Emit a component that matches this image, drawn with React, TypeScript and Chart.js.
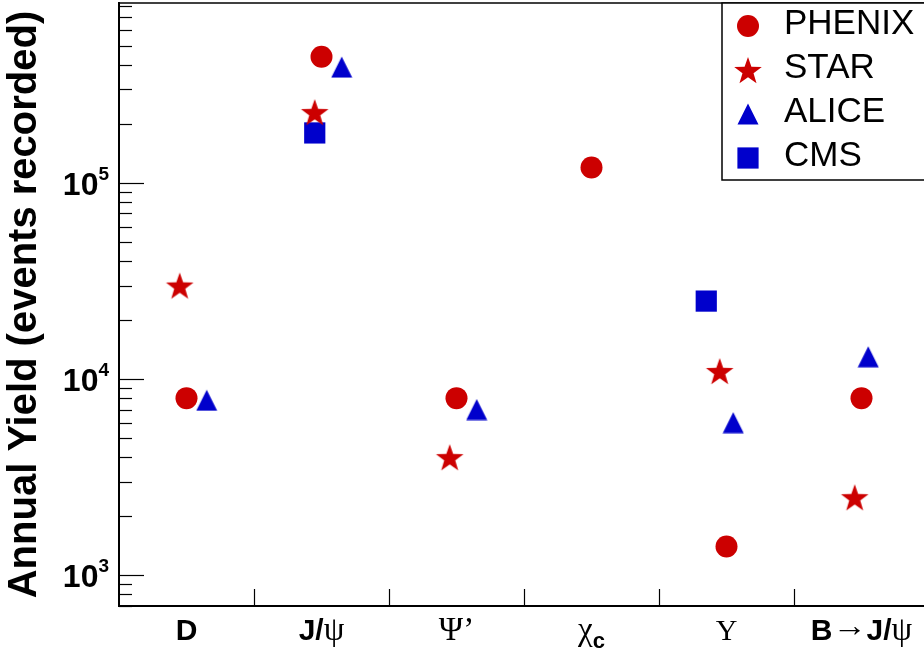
import React, { useEffect, useRef } from 'react';
import { Chart, registerables } from 'chart.js';

Chart.register(...registerables);

// ---- data ----
const categories = ['D', 'J/ψ', 'Ψ’', 'χc', 'Υ', 'B→J/ψ'];
const yTickValues = [1e3, 1e4, 1e5];
const yTickBase = '10';
const yTickExponents = ['3', '4', '5'];
const yTitle = 'Annual Yield (events recorded)';

const seriesNames = ['PHENIX', 'STAR', 'ALICE', 'CMS'];

const phenixX = [0.5, 1.5, 2.5, 3.5, 4.5, 5.5];
const phenixY = [8000, 440000, 8000, 120000, 1400, 8000];

const starX = [0.45, 1.45, 2.45, 4.45, 5.45];
const starY = [30000, 230000, 4000, 11000, 2500];

const aliceX = [0.65, 1.65, 2.65, 4.55, 5.55];
const aliceY = [7800, 390000, 7000, 6000, 13000];

const cmsX = [1.45, 4.35];
const cmsY = [180000, 25000];

const Y_MIN = 697;
const Y_MAX = 827700;

// ---- styles ----
const RED = '#cc0000';
const BLUE = '#0000cc';
const SANS = '"Liberation Sans", Arial, Helvetica, sans-serif';
const SERIF = '"Liberation Serif", "Times New Roman", serif';

function makeStar(color: string) {
  const R = 14.5;
  const r = R * 0.4;
  const c = document.createElement('canvas');
  c.width = 30;
  c.height = 28;
  const ctx = c.getContext('2d')!;
  ctx.fillStyle = color;
  ctx.beginPath();
  const cx = 15;
  const cy = 1 + R;
  for (let k = 0; k < 10; k++) {
    const rad = k % 2 === 0 ? R : r;
    const a = -Math.PI / 2 + (k * Math.PI) / 5;
    const px = cx + rad * Math.cos(a);
    const py = cy + rad * Math.sin(a);
    if (k === 0) ctx.moveTo(px, py);
    else ctx.lineTo(px, py);
  }
  ctx.closePath();
  ctx.fill();
  return c;
}

function makeTriangle(color: string) {
  const c = document.createElement('canvas');
  c.width = 22;
  c.height = 22;
  const ctx = c.getContext('2d')!;
  ctx.fillStyle = color;
  ctx.beginPath();
  ctx.moveTo(11, 0.5);
  ctx.lineTo(21.5, 21.5);
  ctx.lineTo(0.5, 21.5);
  ctx.closePath();
  ctx.fill();
  return c;
}

function drawMarker(ctx: CanvasRenderingContext2D, ds: any, x: number, y: number) {
  const style = ds.pointStyle;
  ctx.save();
  ctx.fillStyle = ds.backgroundColor;
  if (style === 'circle') {
    ctx.beginPath();
    ctx.arc(x, y, ds.pointRadius, 0, Math.PI * 2);
    ctx.fill();
  } else if (style === 'rect') {
    const s = ds.pointRadius * Math.SQRT1_2;
    ctx.fillRect(x - s, y - s, 2 * s, 2 * s);
  } else if (style && style.width) {
    ctx.drawImage(style, x - style.width / 2, y - style.height / 2);
  }
  ctx.restore();
}

function drawCategoryLabel(ctx: CanvasRenderingContext2D, text: string, cx: number, baseline: number) {
  const segs: { t: string; f: string; dy: number; w?: number }[] = [];
  for (let i = 0; i < text.length; i++) {
    const ch = text[i];
    if (/[A-Za-z\/]/.test(ch)) {
      if (i > 0 && text[i - 1] === 'χ') segs.push({ t: ch, f: `bold 22px ${SANS}`, dy: 8 });
      else segs.push({ t: ch, f: `bold 30px ${SANS}`, dy: 0 });
    } else if (ch === '→') {
      segs.push({ t: ch, f: `32px ${SERIF}`, dy: -4, w: 34 });
    } else if (ch === 'Υ') {
      segs.push({ t: ch, f: `30px ${SERIF}`, dy: 0 });
    } else {
      segs.push({ t: ch, f: `33px ${SERIF}`, dy: 0 });
    }
  }
  let total = 0;
  const widths = segs.map((s) => {
    ctx.font = s.f;
    const w = s.w ?? ctx.measureText(s.t).width;
    total += w;
    return w;
  });
  let x = cx - total / 2;
  ctx.textAlign = 'left';
  ctx.textBaseline = 'alphabetic';
  ctx.fillStyle = '#000';
  segs.forEach((s, i) => {
    ctx.font = s.f;
    if (s.w) {
      const natural = ctx.measureText(s.t).width;
      ctx.save();
      ctx.translate(x, baseline + s.dy);
      ctx.scale(s.w / natural, 1);
      ctx.fillText(s.t, 0, 0);
      ctx.restore();
    } else {
      ctx.fillText(s.t, x, baseline + s.dy);
    }
    x += widths[i];
  });
}

const framePlugin = {
  id: 'rootFrame',
  afterDraw(chart: any) {
    const ctx: CanvasRenderingContext2D = chart.ctx;
    const { left, right, top, bottom } = chart.chartArea;
    const ys = chart.scales.y;
    const xs = chart.scales.x;
    ctx.save();
    // top frame line
    ctx.strokeStyle = '#000';
    ctx.lineWidth = 1.5;
    ctx.beginPath();
    ctx.moveTo(left, top);
    ctx.lineTo(right + 5, top);
    ctx.stroke();

    // y ticks (major + minor), drawn inward
    ctx.lineWidth = 1.2;
    for (let e = 2; e <= 6; e++) {
      for (let m = 1; m <= 9; m++) {
        const v = m * Math.pow(10, e);
        if (v < Y_MIN || v > Y_MAX) continue;
        const y = Math.round(ys.getPixelForValue(v)) + 0.5;
        const len = m === 1 ? 25 : 13;
        ctx.beginPath();
        ctx.moveTo(left, y);
        ctx.lineTo(left + len, y);
        ctx.stroke();
      }
    }
    // y tick labels 10^n
    ctx.fillStyle = '#000';
    ctx.textBaseline = 'alphabetic';
    yTickValues.forEach((v, i) => {
      const y = ys.getPixelForValue(v);
      ctx.font = `bold 19px ${SANS}`;
      const ew = ctx.measureText(yTickExponents[i]).width;
      ctx.textAlign = 'right';
      ctx.fillText(yTickExponents[i], left - 10, y - 3);
      ctx.font = `bold 32px ${SANS}`;
      ctx.fillText(yTickBase, left - 10 - ew, y + 12);
    });

    // x ticks at category boundaries
    for (let i = 1; i < categories.length; i++) {
      const x = Math.round(xs.getPixelForValue(i)) + 0.5;
      ctx.beginPath();
      ctx.moveTo(x, bottom);
      ctx.lineTo(x, bottom - 17);
      ctx.stroke();
    }
    // category labels
    categories.forEach((c, i) => {
      drawCategoryLabel(ctx, c, xs.getPixelForValue(i + 0.5), 640);
    });

    // legend
    const lx = 722;
    const ly = top;
    const lw = 240;
    const lh = 177;
    ctx.fillStyle = '#fff';
    ctx.fillRect(lx, ly, lw, lh);
    ctx.strokeStyle = '#000';
    ctx.lineWidth = 1.5;
    ctx.strokeRect(lx, ly, lw, lh);
    chart.data.datasets.forEach((ds: any, i: number) => {
      const rowY = ly + 21 + i * 44;
      drawMarker(ctx, ds, 748, rowY + 2);
      ctx.fillStyle = '#000';
      ctx.font = `35px ${SANS}`;
      ctx.textAlign = 'left';
      ctx.textBaseline = 'middle';
      ctx.fillText(ds.label, 784, rowY);
    });
    ctx.restore();
  },
};

function toPoints(xs: number[], ys: number[]) {
  return xs.map((x, i) => ({ x, y: ys[i] }));
}

function zeroPad(s: any) {
  s.paddingTop = 0;
  s.paddingBottom = 0;
  s.paddingLeft = 0;
  s.paddingRight = 0;
}

export default function App() {
  const ref = useRef<HTMLCanvasElement>(null);
  useEffect(() => {
    document.documentElement.style.overflow = 'hidden';
    document.body.style.margin = '0';
    document.body.style.overflow = 'hidden';
    const starImg = makeStar(RED);
    const triImg = makeTriangle(BLUE);
    const chart = new Chart(ref.current!, {
      type: 'scatter',
      data: {
        datasets: [
          {
            label: seriesNames[0],
            data: toPoints(phenixX, phenixY),
            pointStyle: 'circle',
            pointRadius: 11,
            backgroundColor: RED,
            borderWidth: 0,
          },
          {
            label: seriesNames[1],
            data: toPoints(starX, starY),
            pointStyle: starImg as any,
            pointRadius: 13,
            backgroundColor: RED,
            borderWidth: 0,
          },
          {
            label: seriesNames[2],
            data: toPoints(aliceX, aliceY),
            pointStyle: triImg as any,
            pointRadius: 11,
            backgroundColor: BLUE,
            borderWidth: 0,
          },
          {
            label: seriesNames[3],
            data: toPoints(cmsX, cmsY),
            pointStyle: 'rect',
            pointRadius: 15,
            backgroundColor: BLUE,
            borderWidth: 0,
          },
        ] as any,
      },
      options: {
        animation: false,
        responsive: false,
        devicePixelRatio: 1,
        layout: { autoPadding: false, padding: { left: 0, top: 3, right: 1, bottom: 0 } },
        plugins: {
          legend: { display: false },
          tooltip: { enabled: false },
        },
        scales: {
          x: {
            type: 'linear',
            min: 0,
            max: categories.length,
            ticks: { display: false },
            grid: { display: false, drawTicks: false },
            border: { display: true, color: '#000', width: 2 },
            afterFit: (s: any) => {
              s.height = 46;
              zeroPad(s);
            },
          },
          y: {
            type: 'logarithmic',
            min: Y_MIN,
            max: Y_MAX,
            bounds: 'data',
            ticks: { display: false },
            grid: { display: false, drawTicks: false },
            border: { display: true, color: '#000', width: 2 },
            title: {
              display: true,
              text: yTitle,
              color: '#000',
              font: { family: SANS, size: 40, weight: 'bold' },
              padding: { top: 1, bottom: 0 },
            },
            afterFit: (s: any) => {
              s.width = 119;
              zeroPad(s);
            },
          },
        } as any,
      },
      plugins: [framePlugin],
    });
    return () => chart.destroy();
  }, []);
  return (
    <div
      style={{
        position: 'fixed',
        left: 0,
        top: 0,
        width: 930,
        height: 652,
        overflow: 'hidden',
        background: '#fff',
      }}
    >
      <canvas ref={ref} width={930} height={652} style={{ display: 'block' }} />
    </div>
  );
}
